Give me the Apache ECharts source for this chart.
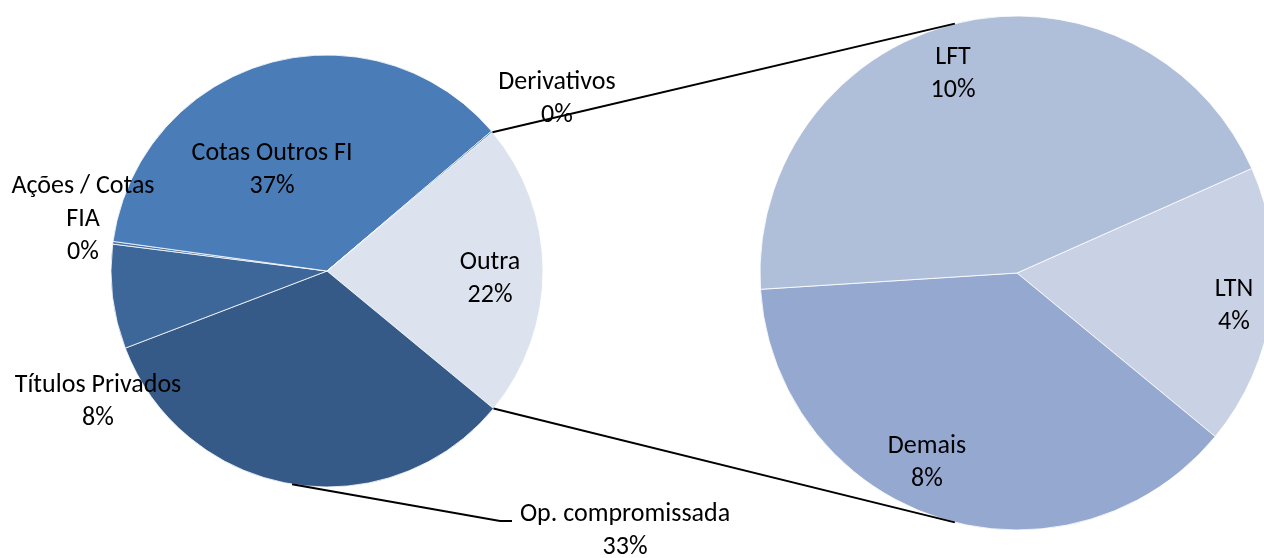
<!DOCTYPE html>
<html>
<head>
<meta charset="utf-8">
<script src="https://cdn.jsdelivr.net/npm/echarts@6/dist/echarts.min.js"></script>
<style>
  html, body { margin: 0; padding: 0; background: #fff; }
  #chart { width: 1264px; height: 558px; }
</style>
</head>
<body>
<div id="chart"></div>
<script>
// composição da carteira (% do total), em sentido horário a partir de "Outra"
var mainNames = ['Outra', 'Op. compromissada', 'Títulos Privados', 'Ações / Cotas\nFIA', 'Cotas Outros FI', 'Derivativos'];
var mainValues = [22.1, 33.2, 7.8, 0.2, 36.6, 0.1];
var mainColors = ['#dce3ef', '#365a87', '#3d6699', '#4572aa', '#4a7cb7', '#4a7cb7'];

// detalhamento da fatia "Outra" (% do total)
var subNames = ['LTN', 'Demais', 'LFT'];
var subValues = [3.9, 8.4, 9.8];
var subColors = ['#c9d1e4', '#95a9d0', '#afbfda'];

// posição (centro) de cada rótulo
var mainLabelPos = [[490, 279], [625, 531], [98, 402], [83, 219], [272, 170], [557, 99]];
var subLabelPos = [[1234, 306], [927, 463], [953, 74]];

var leftCenter = [327, 271], leftR = 216, leftStart = 40;
var rightCenter = [1017, 273], rightR = 257, rightStart = 24;
var joinAngle = 104; // onde as linhas tocam a pizza da direita

function total(arr) {
  return arr.reduce(function (a, b) { return a + b; }, 0);
}

function edgePoint(c, r, deg) {
  var a = deg * Math.PI / 180;
  return [c[0] + r * Math.cos(a), c[1] - r * Math.sin(a)];
}

var mainTotal = total(mainValues);
var outraSpan = mainValues[0] / mainTotal * 360;
var opMid = leftStart - outraSpan - (mainValues[1] / mainTotal * 360) / 2;

var topA = edgePoint(leftCenter, leftR, leftStart);
var botA = edgePoint(leftCenter, leftR, leftStart - outraSpan);
var topB = edgePoint(rightCenter, rightR, joinAngle);
var botB = edgePoint(rightCenter, rightR, -joinAngle);
var opA = edgePoint(leftCenter, leftR, opMid);

var labelFont = {
  fontFamily: 'Carlito, Lato, sans-serif',
  fontSize: 26,
  lineHeight: 33,
  color: '#000'
};

function fmt(p) {
  return p.name + '\n' + Math.round(p.value) + '%';
}

var option = {
  animation: false,
  series: [
    {
      type: 'pie',
      center: leftCenter,
      radius: leftR,
      startAngle: leftStart,
      clockwise: true,
      silent: true,
      itemStyle: { borderColor: 'rgba(255,255,255,0.8)', borderWidth: 1 },
      label: Object.assign({ position: 'inside', formatter: fmt }, labelFont),
      labelLine: { show: false },
      labelLayout: function (params) {
        var p = mainLabelPos[params.dataIndex];
        return { x: p[0], y: p[1], align: 'center', verticalAlign: 'middle' };
      },
      data: mainNames.map(function (n, i) {
        return { name: n, value: mainValues[i], itemStyle: { color: mainColors[i] } };
      })
    },
    {
      type: 'pie',
      center: rightCenter,
      radius: rightR,
      startAngle: rightStart,
      clockwise: true,
      silent: true,
      itemStyle: { borderColor: 'rgba(255,255,255,0.8)', borderWidth: 1 },
      label: Object.assign({ position: 'inside', formatter: fmt }, labelFont),
      labelLine: { show: false },
      labelLayout: function (params) {
        var p = subLabelPos[params.dataIndex];
        return { x: p[0], y: p[1], align: 'center', verticalAlign: 'middle' };
      },
      data: subNames.map(function (n, i) {
        return { name: n, value: subValues[i], itemStyle: { color: subColors[i] } };
      })
    }
  ],
  graphic: [
    {
      type: 'polyline', z: 100, silent: true,
      shape: { points: [topA, topB] },
      style: { stroke: '#000', lineWidth: 2, fill: null }
    },
    {
      type: 'polyline', z: 100, silent: true,
      shape: { points: [botA, botB] },
      style: { stroke: '#000', lineWidth: 2, fill: null }
    },
    {
      type: 'polyline', z: 100, silent: true,
      shape: { points: [opA, [500, 521], [512, 521]] },
      style: { stroke: '#000', lineWidth: 2, fill: null }
    }
  ]
};

var myChart = echarts.init(document.getElementById('chart'));
myChart.setOption(option);
</script>
</body>
</html>
